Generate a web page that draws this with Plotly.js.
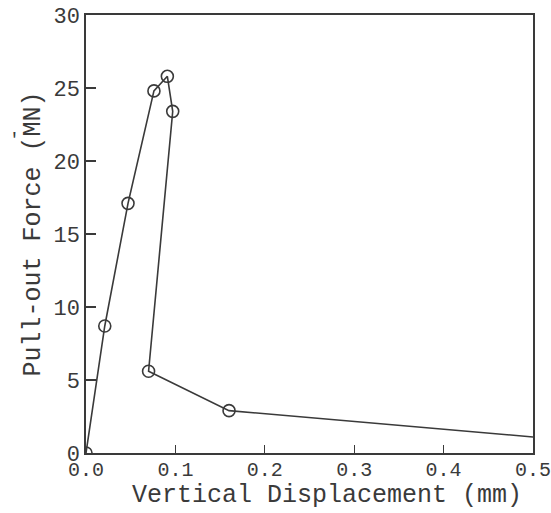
<!DOCTYPE html>
<html>
<head>
<meta charset="utf-8">
<script src="https://cdn.plot.ly/plotly-3.0.1.min.js"></script>
<style>html,body{margin:0;padding:0;background:#fff;}#chart{width:551px;height:513px;}</style>
</head>
<body>
<div id="chart"></div>
<script>
// Vertical displacement (mm) and pull-out force (MN)
const dispMm  = [0, 0.021, 0.047, 0.076, 0.091, 0.097, 0.070, 0.160, 0.5];
const forceMN = [0, 8.7, 17.1, 24.8, 25.8, 23.4, 5.6, 2.9, 1.1];
// the final point is the end of the curve and carries no circle marker
const markedCount = 8;

const xTicks = [0, 0.1, 0.2, 0.3, 0.4, 0.5];
const xTickText = ['0.0', '0.1', '0.2', '0.3', '0.4', '0.5'];
const yTicks = [0, 5, 10, 15, 20, 25, 30];
const xTitle = 'Vertical Displacement (mm)';
const yTitle = 'Pull-out Force (MN)';

const ink = '#3a3a3a';
const font = 'Liberation Mono, Courier New, monospace';

const traces = [
  {
    x: dispMm, y: forceMN, type: 'scatter', mode: 'lines',
    line: {color: ink, width: 1.6}, hoverinfo: 'skip', showlegend: false
  },
  {
    x: dispMm.slice(0, markedCount), y: forceMN.slice(0, markedCount),
    type: 'scatter', mode: 'markers',
    marker: {symbol: 'circle-open', size: 12, color: ink, line: {width: 1.6, color: ink}},
    showlegend: false
  }
];

const layout = {
  width: 551, height: 513,
  margin: {l: 86, r: 18, t: 15, b: 60},
  paper_bgcolor: '#fff', plot_bgcolor: '#fff',
  font: {family: font, color: ink},
  showlegend: false,
  xaxis: {
    range: [0, 0.5], tickvals: xTicks, ticktext: xTickText,
    ticks: 'inside', ticklen: 8, tickwidth: 1.4, tickcolor: ink,
    ticklabeloverflow: 'allow', ticklabelstandoff: -3,
    showline: true, linecolor: ink, linewidth: 1.6, mirror: true,
    showgrid: false, zeroline: false,
    tickfont: {family: font, size: 20, color: ink}
  },
  yaxis: {
    range: [0, 30], tickvals: yTicks,
    ticks: 'inside', ticklen: 10, tickwidth: 1.4, tickcolor: ink,
    showline: true, linecolor: ink, linewidth: 1.6, mirror: true,
    showgrid: false, zeroline: false,
    tickfont: {family: font, size: 22, color: ink},
    title: {text: yTitle, font: {family: font, size: 25, color: ink}, standoff: 6}
  },
  annotations: [
    {text: xTitle, xref: 'paper', yref: 'paper', x: 0.539, y: -0.098,
     xanchor: 'center', yanchor: 'middle',
     showarrow: false, font: {family: font, size: 25, color: ink}},
    {text: "'", xref: 'paper', yref: 'paper', x: -0.161, y: 0.715,
     xanchor: 'center', yanchor: 'middle',
     showarrow: false, font: {family: font, size: 18, color: ink}}
  ]
};

Plotly.newPlot('chart', traces, layout, {displayModeBar: false, staticPlot: true});
</script>
</body>
</html>
